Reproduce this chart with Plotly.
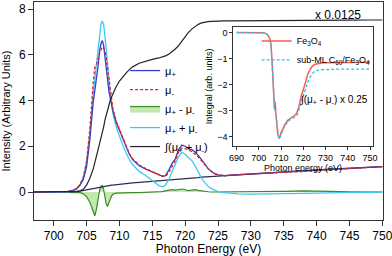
import plotly.graph_objects as go

# ---------------- main panel data ----------------
energy = [697, 700, 702, 703, 703.5, 704, 704.5, 705, 705.5, 706, 706.25, 706.5, 706.75, 707, 707.2,
          707.4, 707.6, 707.8, 708, 708.2, 708.4, 708.6, 708.8, 709, 709.5, 710, 710.5, 711, 711.5,
          712, 713, 714, 715, 716, 716.5, 717, 717.5, 718, 718.5, 719, 719.5, 720, 720.5, 721,
          721.5, 722, 722.5, 723, 723.5, 724, 724.5, 725, 726, 727, 728, 730, 732, 735, 738, 740,
          742, 745, 748, 750]

mu_plus = [0, 0, 0.02, 0.08, 0.15, 0.3, 0.55, 1.1, 2.3, 3.9, 4.4, 4.85, 5.5, 6.2, 6.5,
           6.62, 6.4, 5.9, 5.3, 4.8, 4.4, 4.1, 3.8, 3.55, 3.05, 2.7, 2.38, 1.95, 1.65,
           1.42, 1.15, 1.0, 0.88, 0.76, 0.7, 0.72, 0.95, 1.25, 1.45, 1.85, 2.05, 2.0, 1.9, 1.85,
           1.75, 1.6, 1.4, 1.2, 1.02, 0.9, 0.8, 0.75, 0.72, 0.74, 0.76, 0.8, 0.84, 0.89, 0.94, 0.97,
           1.0, 1.04, 1.08, 1.11]

mu_minus = [0, 0, 0.02, 0.08, 0.16, 0.33, 0.63, 1.3, 2.75, 4.75, 5.44, 5.6, 5.8, 6.1, 6.25,
            6.34, 6.3, 6.15, 5.85, 5.42, 4.9, 4.42, 3.98, 3.65, 3.1, 2.74, 2.41, 1.98, 1.68,
            1.45, 1.18, 1.02, 0.9, 0.76, 0.68, 0.67, 0.86, 1.15, 1.37, 1.74, 1.92, 1.9, 1.84, 1.77,
            1.65, 1.53, 1.36, 1.18, 1.01, 0.9, 0.8, 0.75, 0.71, 0.74, 0.76, 0.79, 0.82, 0.86, 0.89, 0.92,
            0.97, 1.03, 1.08, 1.11]

mu_diff = [0, 0, 0, 0, -0.01, -0.03, -0.08, -0.2, -0.45, -0.85, -1.04, -0.75, -0.3, 0.1, 0.25,
           0.28, 0.1, -0.25, -0.55, -0.62, -0.5, -0.32, -0.18, -0.1, -0.05, -0.04, -0.03, -0.03, -0.03,
           -0.03, -0.03, -0.02, -0.02, 0.0, 0.02, 0.05, 0.09, 0.1, 0.08, 0.11, 0.13, 0.1, 0.06, 0.08,
           0.1, 0.07, 0.04, 0.02, 0.01, 0.0, 0.0, 0.0, 0.01, 0.0, 0.0, 0.01, 0.02, 0.03, 0.05, 0.05,
           0.03, 0.01, 0.0, 0.0]

mu_sum = [0, 0, 0, 0.05, 0.12, 0.3, 0.65, 1.35, 2.6, 4.3, 5.0, 5.7, 6.4, 7.0, 7.35,
          7.47, 7.3, 6.8, 6.1, 5.4, 4.8, 4.3, 3.85, 3.45, 2.85, 2.4, 2.05, 1.72, 1.42,
          1.2, 0.9, 0.72, 0.5, 0.28, 0.23, 0.3, 0.55, 0.88, 1.2, 1.55, 1.73, 1.65, 1.5, 1.38,
          1.15, 0.85, 0.6, 0.4, 0.25, 0.15, 0.07, 0.02, -0.03, -0.06, -0.08, -0.09, -0.09, -0.08, -0.06, -0.05,
          -0.03, -0.02, -0.01, 0.0]

integral_sum = [0, 0, 0, 0.01, 0.03, 0.05, 0.12, 0.3, 0.6, 1.0, 1.25, 1.55, 1.85, 2.15, 2.35,
                2.55, 2.85, 3.15, 3.4, 3.62, 3.82, 4.0, 4.15, 4.3, 4.6, 4.85, 5.05, 5.2, 5.35,
                5.47, 5.63, 5.72, 5.8, 5.86, 5.9, 5.95, 6.02, 6.12, 6.25, 6.4, 6.6, 6.8, 6.98, 7.12,
                7.24, 7.33, 7.39, 7.43, 7.45, 7.46, 7.47, 7.47, 7.48, 7.48, 7.48, 7.49, 7.49, 7.5, 7.5, 7.5,
                7.51, 7.51, 7.52, 7.52]

step_background = [0, 0, 0, 0.01, 0.02, 0.04, 0.07, 0.1, 0.13, 0.15, 0.17, 0.18, 0.19, 0.2, 0.21,
                   0.22, 0.23, 0.24, 0.26, 0.27, 0.28, 0.29, 0.3, 0.3, 0.32, 0.34, 0.35, 0.36, 0.38,
                   0.4, 0.42, 0.44, 0.46, 0.48, 0.5, 0.51, 0.52, 0.53, 0.54, 0.56, 0.57, 0.58, 0.6, 0.61,
                   0.62, 0.63, 0.65, 0.66, 0.67, 0.68, 0.69, 0.7, 0.72, 0.74, 0.76, 0.79, 0.82, 0.87, 0.92, 0.95,
                   0.98, 1.03, 1.08, 1.11]

main_xticks = [700, 705, 710, 715, 720, 725, 730, 735, 740, 745, 750]
main_yticks = [0, 2, 4, 6, 8]

# ---------------- inset data ----------------
inset_energy = [690, 695, 700, 702, 703, 704, 705, 705.5, 706, 706.5, 707, 707.2, 707.4, 707.6, 708,
                708.5, 709, 709.5, 710, 711, 712, 713, 714, 715, 716, 717, 718, 719, 720, 720.5,
                721, 721.5, 722, 723, 724, 725, 726, 728, 730, 735, 740, 745, 750]
fe3o4 = [0, 0, 0, -0.01, -0.03, -0.08, -0.25, -0.5, -1.2, -2.2, -2.95, -2.65, -2.75, -3.05, -3.5,
         -3.9, -4.07, -4.0, -3.85, -3.65, -3.5, -3.38, -3.3, -3.25, -3.2, -3.1, -2.85, -2.45, -2.2, -2.05,
         -1.92, -1.78, -1.6, -1.42, -1.3, -1.23, -1.2, -1.17, -1.16, -1.16, -1.15, -1.15, -1.14]
c60_fe3o4 = [0, 0, 0, -0.01, -0.03, -0.09, -0.27, -0.55, -1.3, -2.3, -3.0, -3.05, -3.0, -3.15, -3.6,
             -3.95, -4.1, -4.05, -3.9, -3.7, -3.55, -3.45, -3.35, -3.3, -3.27, -3.2, -3.0, -2.65, -2.45, -2.3,
             -2.18, -2.05, -1.9, -1.72, -1.58, -1.5, -1.46, -1.43, -1.42, -1.41, -1.41, -1.41, -1.41]
inset_xticks = [690, 700, 710, 720, 730, 740, 750]
inset_yticks = [0, -1, -2, -3, -4]

FONT = "Liberation Sans, Arial, sans-serif"
AX = "#333333"

fig = go.Figure()

fig.add_trace(go.Scatter(x=energy, y=mu_diff, mode="lines", name="μ<sub>+</sub> - μ<sub>-</sub>",
                         line=dict(color="#3a8a2a", width=1.2), fill="tozeroy",
                         fillcolor="#c3e8ae", legendrank=3))
fig.add_trace(go.Scatter(x=energy, y=step_background, mode="lines", showlegend=False,
                         line=dict(color="#2c2c55", width=1.2)))
fig.add_trace(go.Scatter(x=energy, y=mu_sum, mode="lines", name="μ<sub>+</sub> + μ<sub>-</sub>",
                         line=dict(color="#3cc8f5", width=1.3), legendrank=4))
fig.add_trace(go.Scatter(x=energy, y=mu_plus, mode="lines", name="μ<sub>+</sub>",
                         line=dict(color="#3040d0", width=1.3), legendrank=1))
fig.add_trace(go.Scatter(x=energy, y=mu_minus, mode="lines", name="μ<sub>-</sub>",
                         line=dict(color="#e02020", width=1.3, dash="3px,2px"), legendrank=2))
fig.add_trace(go.Scatter(x=energy, y=integral_sum, mode="lines", name="∫(μ<sub>+</sub> + μ<sub>-</sub>)",
                         line=dict(color="#22222e", width=1.2), legendrank=5))

fig.add_trace(go.Scatter(x=inset_energy, y=fe3o4, mode="lines", name="Fe<sub>3</sub>O<sub>4</sub>",
                         xaxis="x2", yaxis="y2", legend="legend2",
                         line=dict(color="#ff5a48", width=1.5)))
fig.add_trace(go.Scatter(x=inset_energy, y=c60_fe3o4, mode="lines",
                         name="sub-ML C<sub>60</sub>/Fe<sub>3</sub>O<sub>4</sub>",
                         xaxis="x2", yaxis="y2", legend="legend2",
                         line=dict(color="#30c0ee", width=1.3, dash="3px,2px")))

fig.update_layout(
    width=392, height=256,
    margin=dict(l=34, r=9, t=2, b=36),
    paper_bgcolor="white", plot_bgcolor="white",
    font=dict(family=FONT, size=12, color="black"),
    xaxis=dict(range=[697, 750.1], tickvals=main_xticks, ticks="outside", ticklen=5,
               showline=True, mirror=True, linecolor=AX, tickcolor=AX, showgrid=False,
               zeroline=False, tickfont=dict(size=12), automargin=False, ticklabeloverflow="allow",
               title=dict(text="Photon Energy (eV)", font=dict(size=12), standoff=4)),
    yaxis=dict(range=[-1.224, 8.306], tickvals=main_yticks, ticks="outside", ticklen=5,
               showline=True, mirror=True, linecolor=AX, tickcolor=AX, showgrid=False,
               zeroline=False, tickfont=dict(size=12), automargin=False, ticklabeloverflow="allow",
               title=dict(text="Intensity (Arbitrary Units)", font=dict(size=11), standoff=6)),
    xaxis2=dict(domain=[0.571, 0.970], anchor="y2", range=[688.5, 751.1], tickvals=inset_xticks,
                ticks="outside", ticklen=3, showline=True, mirror=True, linecolor=AX, tickcolor=AX,
                showgrid=False, zeroline=False, tickfont=dict(size=9), automargin=False,
                ticklabeloverflow="allow",
                title=dict(text="Photon energy (eV)", font=dict(size=9), standoff=2)),
    yaxis2=dict(domain=[0.339, 0.887], anchor="x2", range=[-4.37, 0.23], tickvals=inset_yticks,
                ticks="outside", ticklen=3, showline=True, mirror=True, linecolor=AX, tickcolor=AX,
                showgrid=False, zeroline=False, tickfont=dict(size=9), automargin=False,
                ticklabeloverflow="allow",
                title=dict(text="Integral (arb. units)", font=dict(size=9), standoff=3)),
    legend=dict(x=0.261, y=0.752, xanchor="left", yanchor="top", bgcolor="rgba(0,0,0,0)",
                font=dict(size=11), tracegroupgap=0),
    legend2=dict(x=0.638, y=0.888, xanchor="left", yanchor="top", bgcolor="rgba(0,0,0,0)",
                 font=dict(size=9)),
    showlegend=True,
    annotations=[
        dict(text="x 0.0125", x=743.2, y=7.74, xref="x", yref="y", showarrow=False,
             font=dict(size=12)),
        dict(text="∫(μ<sub>+</sub> - μ<sub>-</sub>) x 0.25", x=733.7, y=-2.6, xref="x2", yref="y2",
             showarrow=False, font=dict(size=10)),
    ],
)

fig.write_html("out.html", config={"displayModeBar": False},
               post_script="document.body.style.margin='0';document.body.style.padding='0';")
